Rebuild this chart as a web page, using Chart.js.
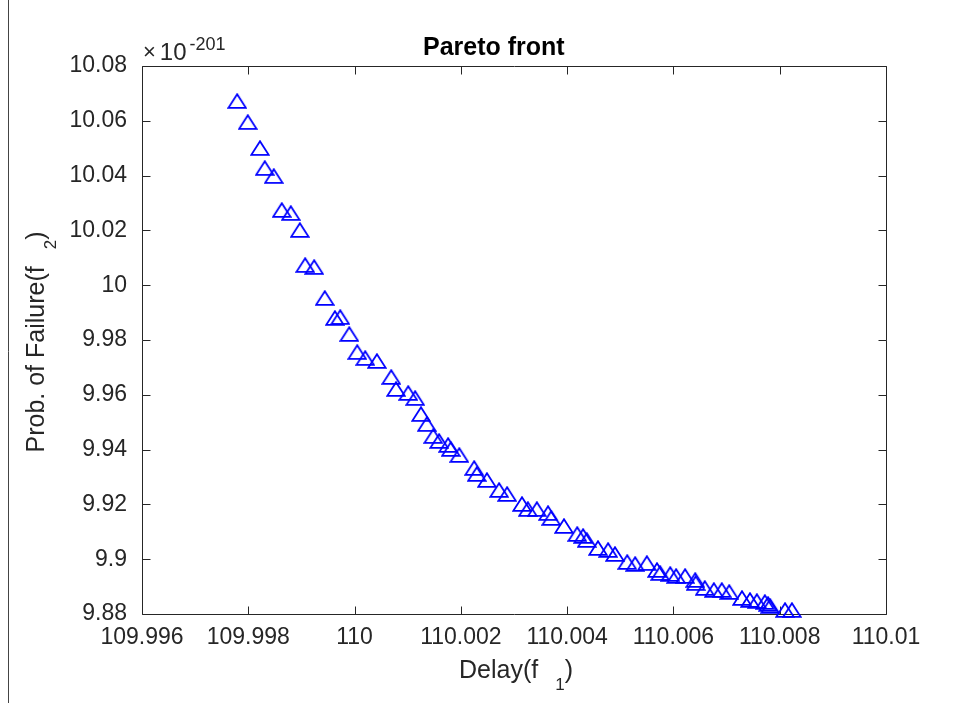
<!DOCTYPE html>
<html><head><meta charset="utf-8">
<script src="https://cdn.jsdelivr.net/npm/chart.js@4/dist/chart.umd.min.js"></script>
<style>
html,body{margin:0;padding:0;background:#fff;overflow:hidden}
#wrap{width:974px;height:703px;position:relative}
</style>
</head><body><div id="wrap"><canvas id="c" width="974" height="703"></canvas></div>
<script>
// ---- data ----
const chartTitle = 'Pareto front';
const yExponent = '-201';
const xLabelMain = 'Delay(f', xLabelSub = '1';
const yLabelMain = 'Prob. of Failure(f', yLabelSub = '2';
const delay = [109.99779,109.99799,109.99822,109.99831,109.99848,109.99863,109.99880,109.99897,109.99907,109.99924,
 109.99944,109.99963,109.99973,109.99990,110.00005,110.00020,110.00042,110.00069,110.00078,110.00101,
 110.00114,110.00125,110.00136,110.00148,110.00159,110.00176,110.00181,110.00197,110.00225,110.00230,
 110.00249,110.00272,110.00287,110.00315,110.00326,110.00343,110.00364,110.00370,110.00394,110.00419,
 110.00430,110.00437,110.00458,110.00477,110.00490,110.00513,110.00528,110.00550,110.00569,110.00575,
 110.00594,110.00605,110.00622,110.00641,110.00642,110.00659,110.00676,110.00691,110.00705,110.00729,
 110.00744,110.00757,110.00772,110.00778,110.00782,110.00810,110.00823];
const probFailure = [10.06723,10.05956,10.05007,10.04277,10.03985,10.02745,10.02635,10.02015,10.00737,10.00664,
 9.99533,9.98803,9.98839,9.98219,9.97562,9.97343,9.97234,9.96650,9.96212,9.96066,
 9.95883,9.95299,9.94934,9.94496,9.94314,9.94168,9.94022,9.93803,9.93329,9.93110,
 9.92891,9.92526,9.92380,9.92015,9.91832,9.91832,9.91686,9.91504,9.91212,9.90920,
 9.90847,9.90701,9.90409,9.90336,9.90190,9.89898,9.89825,9.89861,9.89606,9.89496,
 9.89460,9.89387,9.89387,9.89241,9.89131,9.88949,9.88876,9.88876,9.88803,9.88584,
 9.88511,9.88474,9.88438,9.88365,9.88292,9.88146,9.88146];
const xTicks = [109.996,109.998,110,110.002,110.004,110.006,110.008,110.01];
const yTicks = [9.88,9.9,9.92,9.94,9.96,9.98,10,10.02,10.04,10.06,10.08];

// ---- styling ----
const FONT = '"Liberation Sans", Helvetica, Arial, sans-serif';
const AX = '#262626';

function triangleMarker(){
  const c = document.createElement('canvas');
  c.width = 20; c.height = 16;
  const g = c.getContext('2d');
  g.strokeStyle = '#0000ff'; g.lineWidth = 1.8; g.lineJoin = 'miter';
  g.beginPath(); g.moveTo(10, 1.2); g.lineTo(1.3, 14.8); g.lineTo(18.7, 14.8); g.closePath(); g.stroke();
  return c;
}

const points = delay.map((d, i) => ({x: d, y: probFailure[i]}));

const deco = {
  id: 'deco',
  beforeDatasetsDraw(chart){
    const {ctx, chartArea: a, scales: {x, y}} = chart;
    ctx.save();
    ctx.strokeStyle = AX; ctx.lineWidth = 1;
    const L = 8;
    const l = Math.round(a.left) + 0.5, r = Math.round(a.right) + 0.5;
    const t = Math.round(a.top) + 0.5, b = Math.round(a.bottom) + 0.5;
    ctx.beginPath();
    ctx.rect(l, t, r - l, b - t);
    x.ticks.forEach(tk => {
      const px = Math.round(x.getPixelForValue(tk.value)) + 0.5;
      ctx.moveTo(px, b); ctx.lineTo(px, b - L);
      ctx.moveTo(px, t); ctx.lineTo(px, t + L);
    });
    y.ticks.forEach(tk => {
      const py = Math.round(y.getPixelForValue(tk.value)) + 0.5;
      ctx.moveTo(l, py); ctx.lineTo(l + L, py);
      ctx.moveTo(r, py); ctx.lineTo(r - L, py);
    });
    ctx.stroke();
    ctx.restore();
  },
  afterDraw(chart){
    const {ctx, chartArea: a} = chart;
    const cx = (a.left + a.right) / 2, cy = (a.top + a.bottom) / 2;
    ctx.save();
    ctx.fillStyle = '#000';
    // title
    ctx.font = 'bold 25px ' + FONT;
    ctx.textAlign = 'left'; ctx.textBaseline = 'alphabetic';
    ctx.fillText(chartTitle, 423, 55);
    // exponent
    ctx.fillStyle = AX;
    ctx.font = '22px ' + FONT;
    ctx.fillText('\u00D7', a.left + 1, 59);
    const wx = ctx.measureText('\u00D7').width;
    ctx.font = '24px ' + FONT;
    ctx.fillText('10', a.left + 1 + wx + 4, 60);
    const w10 = ctx.measureText('10').width;
    ctx.font = '18px ' + FONT;
    ctx.fillText(yExponent, a.left + 1 + wx + 4 + w10 + 3, 50);
    // x label
    ctx.font = '25px ' + FONT;
    const w1 = ctx.measureText(xLabelMain).width;
    const wp = ctx.measureText(')').width;
    ctx.font = '17px ' + FONT;
    const ws = ctx.measureText(xLabelSub).width;
    const gap = 17;
    let sx = cx + 2 - (w1 + gap + ws + wp) / 2;
    ctx.font = '25px ' + FONT;
    ctx.fillText(xLabelMain, sx, 678);
    ctx.font = '17px ' + FONT;
    ctx.fillText(xLabelSub, sx + w1 + gap, 690);
    ctx.font = '25px ' + FONT;
    ctx.fillText(')', sx + w1 + gap + ws, 678);
    // y label (rotated)
    ctx.translate(44, cy + 2);
    ctx.rotate(-Math.PI / 2);
    ctx.font = '25px ' + FONT;
    const v1 = ctx.measureText(yLabelMain).width;
    ctx.font = '17px ' + FONT;
    const vs = ctx.measureText(yLabelSub).width;
    let sy = -(v1 + gap + vs + wp) / 2;
    ctx.font = '25px ' + FONT;
    ctx.fillText(yLabelMain, sy, 0);
    ctx.font = '17px ' + FONT;
    ctx.fillText(yLabelSub, sy + v1 + gap, 12);
    ctx.font = '25px ' + FONT;
    ctx.fillText(')', sy + v1 + gap + vs, 0);
    ctx.restore();
    // figure frame on the left
    ctx.save();
    ctx.strokeStyle = '#444'; ctx.lineWidth = 1;
    ctx.beginPath(); ctx.moveTo(8.5, 0); ctx.lineTo(8.5, 703); ctx.stroke();
    ctx.restore();
  }
};

new Chart(document.getElementById('c'), {
  type: 'scatter',
  data: { datasets: [{
    data: points,
    pointStyle: triangleMarker(),
    pointRadius: 9,
    pointHoverRadius: 9,
    clip: false
  }]},
  options: {
    responsive: false,
    animation: false,
    devicePixelRatio: 1,
    events: [],
    layout: { padding: { left: 0, top: 66, right: 88, bottom: 0 } },
    plugins: { legend: { display: false }, title: { display: false }, tooltip: { enabled: false } },
    scales: {
      x: {
        type: 'linear', min: 109.996, max: 110.01,
        afterBuildTicks: s => { s.ticks = xTicks.map(v => ({value: v})); },
        afterFit: s => { s.height = 89; },
        grid: { display: false, drawTicks: false },
        border: { display: false },
        ticks: { autoSkip: false, maxRotation: 0, padding: 10, color: AX,
          font: { family: FONT, size: 23 },
          callback: v => String(parseFloat(Number(v).toFixed(3))) }
      },
      y: {
        type: 'linear', min: 9.88, max: 10.08,
        afterBuildTicks: s => { s.ticks = yTicks.map(v => ({value: v})); },
        afterFit: s => { s.width = 142; },
        grid: { display: false, drawTicks: false },
        border: { display: false },
        ticks: { autoSkip: false, padding: 15, color: AX,
          font: { family: FONT, size: 23 },
          callback: v => String(parseFloat(Number(v).toFixed(2))) }
      }
    }
  },
  plugins: [deco]
});
</script>
</body></html>
